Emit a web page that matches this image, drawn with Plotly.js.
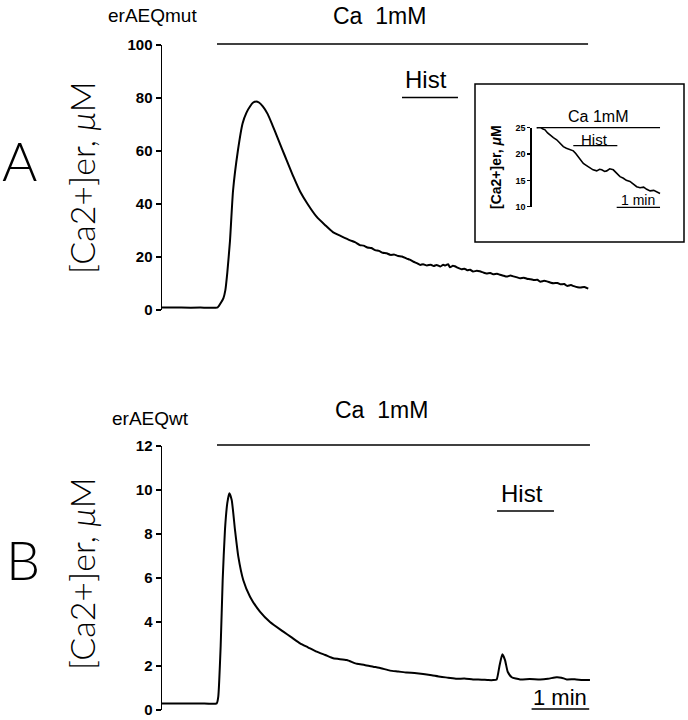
<!DOCTYPE html>
<html>
<head>
<meta charset="utf-8">
<script src="https://cdn.plot.ly/plotly-3.0.1.min.js"></script>
<style>html,body{margin:0;padding:0;background:#fff;}#chart{width:688px;height:720px;}</style>
</head>
<body>
<div id="chart"></div>
<script>
// ---------- DATA ----------
// Panel A: erAEQmut, time (s) and [Ca2+]er (uM)
const timeA = [0, 20, 40, 58, 61.5, 64, 66, 68, 70.8, 74, 79, 84, 88, 92, 95, 98, 101, 105, 110, 115, 120, 125, 130, 137, 144, 152, 161, 170, 178, 187, 196, 201, 206, 210, 214, 218, 222, 226, 230, 234, 238, 242, 246, 250, 255, 258, 262, 266, 269, 272, 276, 280, 283, 286, 290, 293, 295, 298, 300, 303, 305, 309, 312, 315, 318, 321, 324, 328, 331, 335, 338, 342, 345, 349, 352, 356, 359, 363, 366, 370, 373, 377, 380, 384, 387, 391, 394, 398, 401, 405, 408, 412, 415, 419, 422, 426, 429, 433, 436, 440, 444];
const caA   = [0.9, 0.9, 0.9, 1.0, 2.8, 4.5, 7.5, 14, 26, 45, 60, 70.5, 74.5, 77, 78.3, 78.7, 78.3, 76.8, 74, 69.8, 65.3, 60.8, 56.4, 50.2, 44.6, 39.8, 35.2, 32, 29.4, 27.8, 26.3, 25.6, 24.5, 24.3, 23.6, 23.4, 22.6, 22.3, 21.6, 21.4, 20.8, 20.9, 20.4, 20.2, 19.4, 19.0, 18.2, 17.6, 17.0, 17.3, 16.8, 17.1, 16.6, 17.0, 16.4, 17.1, 16.8, 17.3, 16.1, 16.7, 16.5, 15.8, 15.4, 15.6, 15.0, 15.2, 14.5, 14.8, 14.6, 14.1, 13.8, 14.0, 13.5, 13.7, 13.3, 12.9, 12.6, 13.0, 12.7, 12.3, 12.0, 12.2, 11.8, 11.6, 11.3, 11.4, 10.7, 11.0, 10.8, 10.3, 10.1, 10.2, 9.7, 9.8, 9.1, 9.4, 9.0, 8.6, 8.5, 8.7, 8.1];

// Panel B: erAEQwt
const timeB = [0, 20, 40, 57, 58.6, 61.1, 63.2, 65.6, 68, 70.1, 72.6, 76, 79.5, 84.7, 91.7, 102, 112.5, 126.4, 135, 143.8, 152, 161.1, 170, 178.4, 192.4, 203, 211, 220, 228, 237.5, 246, 255, 263, 272, 281, 290, 298, 307, 315, 324, 333, 340, 345, 348.6, 351.4, 354.5, 357.3, 360.1, 364.3, 373, 383, 394, 402, 411, 416, 421.6, 430, 438, 445.8];
const caB   = [0.3, 0.3, 0.3, 0.3, 0.6, 2.9, 5.9, 8.2, 9.4, 9.85, 9.55, 8.2, 6.97, 5.9, 5.15, 4.47, 4.0, 3.56, 3.3, 3.03, 2.85, 2.65, 2.5, 2.35, 2.27, 2.1, 2.05, 1.97, 1.9, 1.79, 1.75, 1.7, 1.68, 1.64, 1.58, 1.51, 1.47, 1.42, 1.43, 1.39, 1.38, 1.36, 1.36, 1.39, 1.97, 2.53, 2.27, 1.74, 1.49, 1.39, 1.41, 1.39, 1.42, 1.49, 1.47, 1.39, 1.40, 1.36, 1.36];

// Inset: erAEQmut, zoom on histamine period
const timeIn = [6.9, 11.5, 15, 18.4, 22, 25.3, 30, 34.6, 39, 43.8, 48, 53, 57.6, 61, 64.5, 68, 71.5, 76, 80.7, 85, 90, 94, 97, 101, 103.9, 108, 113, 117, 122.3, 127, 131, 136.1, 141, 145.4, 150, 155, 159.3, 164, 169, 175.3, 177.7];
const caIn   = [25, 25.1, 24.8, 24.6, 24.0, 23.6, 23.1, 22.7, 22.0, 21.4, 21.1, 20.8, 20.6, 20.1, 19.5, 18.9, 18.2, 17.8, 17.3, 17.0, 16.8, 17.1, 17.0, 16.7, 16.8, 17.2, 17.0, 16.4, 15.7, 15.4, 15.0, 14.8, 14.3, 13.8, 13.6, 13.7, 13.3, 13.0, 13.1, 12.7, 12.5];

// Stimulus bars (start, end in s)
const caBarA = [57.3, 443.8];
const histBarA = [250, 308.3];
const caBarB = [57.3, 445.8];
const histBarB = [349, 408.3];
const scaleBarB = [385, 445];
const caBarIn = [6.9, 177.7];
const histBarIn = [57.6, 118.6];
const scaleBarIn = [117.7, 177.7];

const ticksA = [0, 20, 40, 60, 80, 100];
const ticksB = [0, 2, 4, 6, 8, 10, 12];
const ticksIn = [10, 15, 20, 25];

// ---------- LAYOUT HELPERS ----------
const W = 688, H = 720;
const X = px => px / W;
const Y = py => 1 - py / H;
const FONT = 'Liberation Sans, Arial, sans-serif';
const THIN = 'Lato, DejaVu Sans, sans-serif';

const lineStyle = {color: '#000', width: 2, shape: 'spline', smoothing: 0.5};
const traces = [
  {x: timeA, y: caA, xaxis: 'x', yaxis: 'y', mode: 'lines', line: lineStyle, hoverinfo: 'skip'},
  {x: timeB, y: caB, xaxis: 'x2', yaxis: 'y2', mode: 'lines', line: lineStyle, hoverinfo: 'skip'},
  {x: timeIn, y: caIn, xaxis: 'x3', yaxis: 'y3', mode: 'lines', line: {color: '#000', width: 1.6}, hoverinfo: 'skip'}
];

function yax(domain, range, ticks, anchor, size, len) {
  return {
    domain: domain, range: range, anchor: anchor,
    tickmode: 'array', tickvals: ticks, ticktext: ticks.map(String),
    showline: true, linecolor: '#000', linewidth: 1.5,
    ticks: 'outside', ticklen: len, tickwidth: 1.5, tickcolor: '#000',
    showgrid: false, zeroline: false,
    tickfont: {family: FONT, size: size, color: '#000', weight: 'bold'}
  };
}
function xax(domain, range, anchor) {
  return {domain: domain, range: range, anchor: anchor, visible: false, showgrid: false, zeroline: false};
}

function hbar(xr, bar, py, w) {
  return {type: 'line', xref: xr, yref: 'paper', x0: bar[0], x1: bar[1], y0: Y(py), y1: Y(py),
          line: {color: '#000', width: w || 1.5}};
}

const shapes = [
  hbar('x', caBarA, 44),
  hbar('x', histBarA, 97.5),
  hbar('x2', caBarB, 445),
  hbar('x2', histBarB, 511),
  hbar('x2', scaleBarB, 709),
  hbar('x3', caBarIn, 127.7, 1.3),
  hbar('x3', histBarIn, 145.7, 1.3),
  hbar('x3', scaleBarIn, 207.3, 1.3),
  {type: 'rect', xref: 'paper', yref: 'paper', x0: X(475), x1: X(684), y0: Y(242), y1: Y(84),
   line: {color: '#000', width: 1.5}}
];

function txt(text, px, py, size, extra) {
  return Object.assign({text: text, xref: 'paper', yref: 'paper', x: X(px), y: Y(py),
    xanchor: 'center', yanchor: 'middle', showarrow: false,
    font: {family: FONT, size: size, color: '#000'}}, extra || {});
}
const thinFont = s => ({font: {family: THIN, size: s, color: '#000', weight: 300}});

const annotations = [
  txt('erAEQmut', 152, 15, 19),
  txt('Ca  1mM', 379, 16, 23),
  txt('Hist', 426, 79, 24),
  txt('A', 19, 160, 52, thinFont(54)),
  txt('[Ca2+]er, <i>μ</i>M', 81, 178, 34, Object.assign({textangle: -90}, thinFont(34))),

  txt('erAEQwt', 150, 418, 19),
  txt('Ca  1mM', 381, 410, 23),
  txt('Hist', 522, 493, 24),
  txt('1 min', 560, 697, 22),
  txt('B', 23, 559, 52, thinFont(54)),
  txt('[Ca2+]er, <i>μ</i>M', 81, 574, 34, Object.assign({textangle: -90}, thinFont(34))),

  txt('Ca 1mM', 598, 117, 16),
  txt('Hist', 594, 139, 15),
  txt('1 min', 638, 200, 14),
  txt('<b>[Ca2+]er, <i>μ</i>M</b>', 496, 167, 14, {textangle: -90})
];

const layout = {
  width: W, height: H,
  margin: {l: 0, r: 0, t: 0, b: 0, pad: 0},
  paper_bgcolor: '#fff', plot_bgcolor: 'rgba(0,0,0,0)',
  showlegend: false,
  xaxis:  xax([X(162), X(594)], [0, 450], 'y'),
  yaxis:  yax([Y(310), Y(45)], [0, 100], ticksA, 'x', 15, 5),
  xaxis2: xax([X(162), X(594)], [0, 450], 'y2'),
  yaxis2: yax([Y(710), Y(446)], [0, 12], ticksB, 'x2', 15, 5),
  xaxis3: xax([X(531.7), X(668.9)], [0, 190], 'y3'),
  yaxis3: yax([Y(206.7), Y(127.7)], [10, 25], ticksIn, 'x3', 9, 3),
  shapes: shapes,
  annotations: annotations
};

Plotly.newPlot('chart', traces, layout, {displayModeBar: false, staticPlot: true});
</script>
</body>
</html>
